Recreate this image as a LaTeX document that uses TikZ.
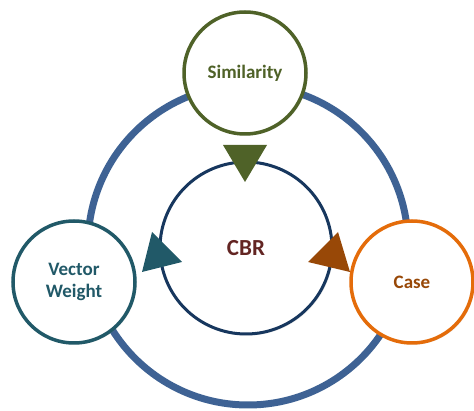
\documentclass[tikz,border=0pt]{standalone}
\usepackage{fontspec}
\setmainfont{Carlito}
\usetikzlibrary{shadows}
\definecolor{vongxanh}{RGB}{62,98,148}
\definecolor{xanhla}{RGB}{79,98,40}
\definecolor{xanhngoc}{RGB}{33,89,104}
\definecolor{camsang}{RGB}{228,108,10}
\definecolor{camdam}{RGB}{152,72,7}
\definecolor{xanhdam}{RGB}{23,55,94}
\definecolor{doden}{RGB}{99,37,35}
\begin{document}
\begin{tikzpicture}[x=1pt,y=-1pt,
	tron/.style={circle,fill=white,line width=3.5pt,minimum size=122pt,inner sep=0pt,align=center,
		font=\bfseries\fontsize{19}{22}\selectfont,
		drop shadow={opacity=0.2,shadow xshift=1.5pt,shadow yshift=-1.5pt}}]
	\useasboundingbox (0,0) rectangle (474,411);
	%Vong tron lon
	\draw[vongxanh,line width=7pt] (248,245) circle[radius=160pt];
	%Vong tron giua
	\node[tron,draw=xanhdam,line width=3pt,minimum size=172pt,text=doden,
		font=\bfseries\fontsize{23}{25}\selectfont] (cbr) at (246,248) {CBR};
	%Ba vong tron ngoai
	\node[tron,draw=xanhla,text=xanhla] (simi) at (245,73) {Similarity};
	\node[tron,draw=xanhngoc,text=xanhngoc] (vec) at (74,282) {Vector\\Weight};
	\node[tron,draw=camsang,text=camdam] (case) at (412,282) {Case};
	%Mui ten
	\fill[xanhla] (223,145) -- (267,145) -- (245,182) -- cycle;
	\fill[xanhngoc] (152,232) -- (182,262) -- (142,272) -- cycle;
	\fill[camdam] (338,232) -- (308,262) -- (350,272) -- cycle;
\end{tikzpicture}
\end{document}
